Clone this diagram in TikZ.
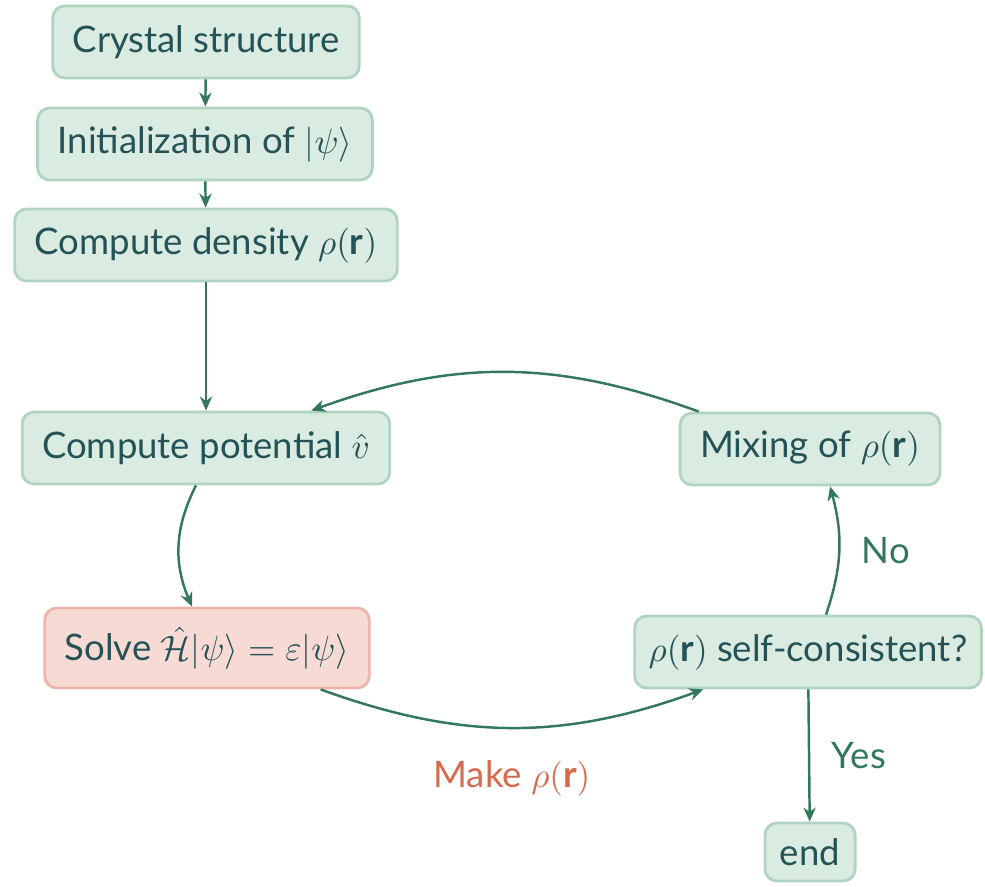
\documentclass[tikz,border=0pt]{standalone}
\usepackage{amsmath}
\usepackage{fontspec}
\setmainfont{Lato}
\usetikzlibrary{arrows.meta}
\definecolor{boxfill}{RGB}{218,235,225}
\definecolor{boxline}{RGB}{176,212,192}
\definecolor{boxtext}{RGB}{36,82,86}
\definecolor{flowcol}{RGB}{52,120,92}
\definecolor{solvefill}{RGB}{248,218,212}
\definecolor{solveline}{RGB}{236,182,172}
\definecolor{makecol}{RGB}{214,106,76}

\begin{document}
\begin{tikzpicture}[
                font=\fontsize{10.4}{12}\selectfont,
                stepbox/.style={draw=boxline, fill=boxfill, text=boxtext, line width=0.8pt, rounded corners=1.2mm, inner xsep=2mm, minimum height=0.72cm},
                solvebox/.style={stepbox, draw=solveline, fill=solvefill, minimum height=0.8cm},
                flow/.style={draw=flowcol, line width=0.7pt, -{Stealth[length=4pt,width=3.5pt]}},
                tag/.style={text=flowcol}
            ]
                \useasboundingbox (0,0) rectangle (9.85,-8.86);
                \node[stepbox] (crystal) at (2.06,-0.42) {Crystal structure};
                \node[stepbox] (init) at (2.05,-1.44) {Initialization of $\lvert\psi\rangle$};
                \node[stepbox] (density) at (2.06,-2.45) {Compute density $\rho(\textbf{r})$};
                \node[stepbox] (potential) at (2.06,-4.48) {Compute potential $\hat{v}$};
                \node[solvebox] (solve) at (2.07,-6.48) {Solve $\hat{\mathcal{H}}\lvert\psi\rangle=\varepsilon\lvert\psi\rangle$};
                \node[stepbox] (mixing) at (8.10,-4.49) {Mixing of $\rho(\textbf{r})$};
                \node[stepbox, inner xsep=1.4mm] (selfcons) at (8.08,-6.52) {$\rho(\textbf{r})$ self-consistent?};
                \node[stepbox, minimum height=0.58cm, inner xsep=1.5mm] (finish) at (8.10,-8.52) {end};

                \draw[flow] (crystal) -- (init);
                \draw[flow] (init) -- (density);
                \draw[flow] (density) -- (potential);
                \draw[flow] ([xshift=-1mm]potential.south) to[bend right=25] ([xshift=-1.5mm]solve.north);
                \draw[flow] ([xshift=-5mm]solve.south east) to[bend right=20]
                    node[below=2mm, text=makecol] (make) {Make $\rho(\textbf{r})$} ([xshift=7mm]selfcons.south west);
                \draw[flow] ([xshift=1.8mm]selfcons.north) to[bend right=17]
                    node[right=1mm, tag] (no) {No} ([xshift=2mm]mixing.south);
                \draw[flow] ([xshift=2mm]mixing.north west) to[bend right=20] ([xshift=-8mm]potential.north east);
                \draw[flow] (selfcons) -- node[right=1mm, tag] (yes) {Yes} (finish);
            \end{tikzpicture}
\end{document}
